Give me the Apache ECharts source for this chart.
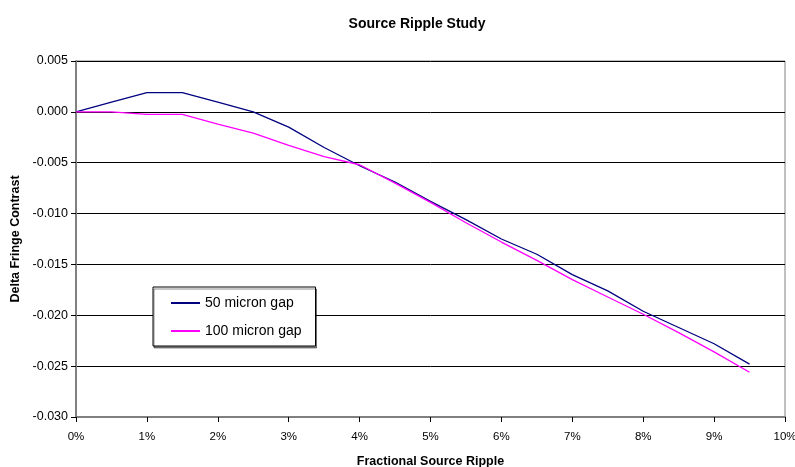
<!DOCTYPE html>
<html>
<head>
<meta charset="utf-8">
<script src="https://cdn.jsdelivr.net/npm/echarts@6/dist/echarts.min.js"></script>
<style>html,body{margin:0;padding:0;background:#fff;}#c{width:795px;height:467px;}</style>
</head>
<body>
<div id="c"></div>
<script>
var ripple = [0, 0.005, 0.01, 0.015, 0.02, 0.025, 0.03, 0.035, 0.04, 0.045, 0.05, 0.055, 0.06, 0.065, 0.07, 0.075, 0.08, 0.085, 0.09, 0.095];
var gap50 = [0, 0.00095, 0.0019, 0.0019, 0.00095, 0, -0.0015, -0.0035, -0.0053, -0.0069, -0.0088, -0.0106, -0.0125, -0.0140, -0.0160, -0.0176, -0.0196, -0.0212, -0.0228, -0.0248];
var gap100 = [0, 0, -0.00025, -0.00025, -0.0012, -0.0021, -0.0033, -0.0044, -0.0052, -0.0070, -0.0089, -0.0109, -0.0128, -0.0146, -0.0165, -0.0182, -0.0199, -0.0217, -0.0236, -0.0256];
var seriesNames = ['50 micron gap', '100 micron gap'];
var titleText = 'Source Ripple Study';
var xName = 'Fractional Source Ripple';
var yName = 'Delta Fringe Contrast';

function pairs(xs, ys) { return xs.map(function (x, i) { return [x, ys[i]]; }); }

var font = 'Liberation Sans, Arial, sans-serif';
var chart = echarts.init(document.getElementById('c'), null, { renderer: 'canvas' });
chart.setOption({
  animation: false,
  backgroundColor: '#fff',
  textStyle: { fontFamily: font },
  title: {
    text: titleText, left: 412, top: 12, textAlign: 'center',
    textStyle: { fontFamily: font, fontSize: 14, fontWeight: 'bold', color: '#000' }
  },
  grid: {
    left: 76, right: 10, top: 61, bottom: 50,
    outerBoundsMode: 'none', containLabel: false,
    show: true, borderColor: '#808080', borderWidth: 1, backgroundColor: 'transparent'
  },
  legend: {
    orient: 'vertical', left: 153, top: 287,
    padding: [8, 14, 7, 18], itemGap: 12, itemWidth: 29, itemHeight: 2, itemTextGap: 3,
    icon: 'rect',
    backgroundColor: '#fff', borderColor: '#000', borderWidth: 1,
    shadowColor: 'rgba(0,0,0,0.45)', shadowOffsetX: 1, shadowOffsetY: 2, shadowBlur: 0,
    textStyle: { fontFamily: font, fontSize: 14, color: '#000', lineHeight: 16 },
    data: seriesNames
  },
  xAxis: {
    type: 'value', min: 0, max: 0.1, interval: 0.01,
    name: xName, nameLocation: 'middle', nameGap: 38,
    nameTextStyle: { fontFamily: font, fontSize: 12.5, fontWeight: 'bold', color: '#000' },
    axisLine: { show: true, onZero: false, lineStyle: { color: '#808080', width: 2 } },
    axisTick: { show: true, inside: false, length: 5, lineStyle: { color: '#000' } },
    axisLabel: { fontFamily: font, fontSize: 11.5, color: '#000', margin: 14,
      formatter: function (v) { return Math.round(v * 100) + '%'; } },
    splitLine: { show: false }
  },
  yAxis: {
    type: 'value', min: -0.03, max: 0.005, interval: 0.005,
    name: yName, nameLocation: 'middle', nameGap: 51, nameRotate: 90,
    nameTextStyle: { fontFamily: font, fontSize: 12.5, fontWeight: 'bold', color: '#000' },
    axisLine: { show: true, lineStyle: { color: '#808080', width: 2 } },
    axisTick: { show: true, inside: false, length: 5, lineStyle: { color: '#000' } },
    axisLabel: { fontFamily: font, fontSize: 12.5, color: '#000', margin: 8,
      formatter: function (v) { return v.toFixed(3); } },
    splitLine: { show: true, lineStyle: { color: '#000', width: 1 } }
  },
  series: [
    { name: seriesNames[0], type: 'line', data: pairs(ripple, gap50), symbol: 'none',
      lineStyle: { color: '#000080', width: 1.3 }, itemStyle: { color: '#000080' } },
    { name: seriesNames[1], type: 'line', data: pairs(ripple, gap100), symbol: 'none',
      lineStyle: { color: '#FF00FF', width: 1.3 }, itemStyle: { color: '#FF00FF' } }
  ]
});
</script>
</body>
</html>
